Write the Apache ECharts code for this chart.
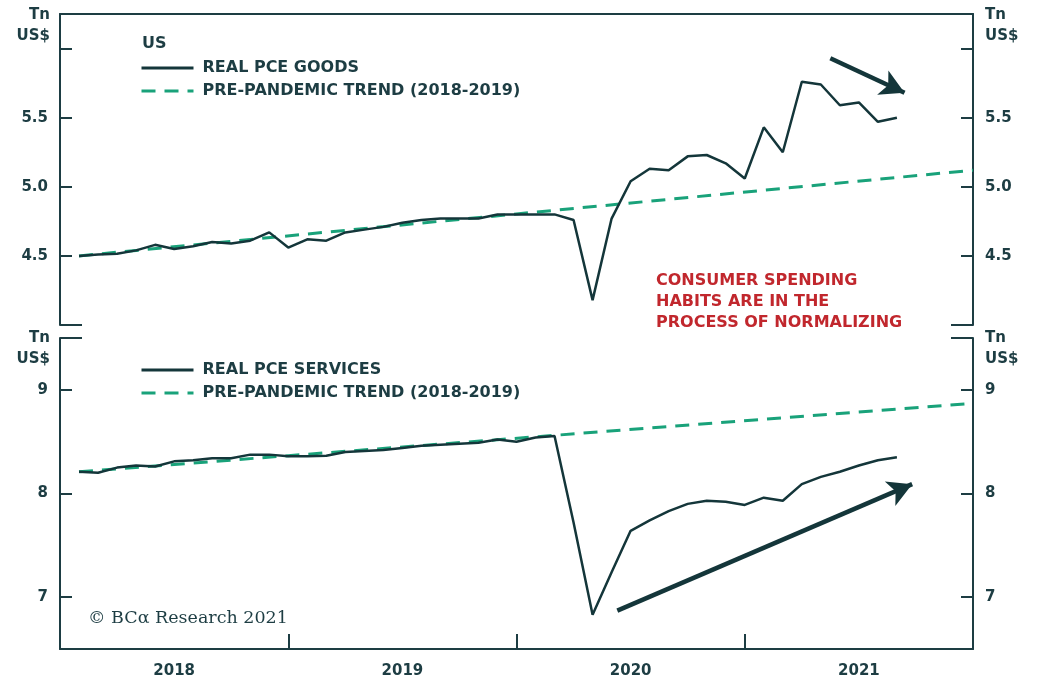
<!DOCTYPE html>
<html>
<head>
<meta charset="utf-8">
<script src="https://cdn.jsdelivr.net/npm/echarts@6/dist/echarts.min.js"></script>
<style>html,body{margin:0;padding:0;background:#fff;}#c{width:1037px;height:683px;}</style>
</head>
<body>
<div id="c"></div>
<script>
// ---- data (monthly, Jan 2018 = month 1) ----
var months = [1,2,3,4,5,6,7,8,9,10,11,12,13,14,15,16,17,18,19,20,21,22,23,24,25,26,27,28,29,30,31,32,33,34,35,36,37,38,39,40,41,42,43,44];
var goods = [4.50,4.51,4.515,4.54,4.58,4.55,4.57,4.60,4.59,4.61,4.67,4.56,4.62,4.61,4.67,4.69,4.71,4.74,4.76,4.77,4.77,4.77,4.80,4.80,4.80,4.80,4.76,4.18,4.77,5.04,5.13,5.12,5.22,5.23,5.17,5.06,5.43,5.25,5.76,5.74,5.59,5.61,5.47,5.50];
var services = [8.21,8.20,8.25,8.27,8.26,8.31,8.32,8.34,8.34,8.375,8.375,8.36,8.36,8.365,8.40,8.41,8.42,8.44,8.46,8.47,8.48,8.49,8.52,8.50,8.54,8.555,7.72,6.83,7.24,7.64,7.74,7.83,7.90,7.93,7.92,7.89,7.96,7.93,8.09,8.16,8.21,8.27,8.32,8.35];
var trendMonths = [1,48];
var goodsTrend = [4.50,5.12];
var servicesTrend = [8.21,8.87];
var yearLabels = ['2018','2019','2020','2021'];
var yearLabelPos = [6,18,30,42];
var yearTicks = [12,24,36];
var goodsTicks = [4.5,5.0,5.5,6.0];
var goodsLabels = [4.5,5.0,5.5];
var servicesTicks = [7,8,9];
var goodsArrow = [[40.5,5.93],[44.4,5.68]];
var servicesArrow = [[29.3,6.87],[44.8,8.09]];
var names = {goods:'REAL PCE GOODS', services:'REAL PCE SERVICES', trend:'PRE-PANDEMIC TREND (2018-2019)'};

// ---- styling / layout ----
var AX = '#1d3d43', LINE = '#14363a', GREEN = '#19a27a', RED = '#c1272d';
var FONT = 'DejaVu Sans';
var L = 60, R = 64;
var G0 = {top:14, height:311}, G1 = {top:338, height:311};

function pairs(xs, ys){ return xs.map(function(x,i){ return [x, ys[i]]; }); }

var chart = echarts.init(document.getElementById('c'), null, {renderer:'canvas'});

function yAx(grid, pos, min, max, ticks, labels, fmt){
  return {
    type:'value', gridIndex:grid, position:pos, min:min, max:max,
    axisLine:{show:true, onZero:false, lineStyle:{color:AX, width:2}},
    axisTick:{show:true, inside:true, length:12, customValues:ticks, lineStyle:{color:AX, width:2}},
    axisLabel:{show:true, customValues:labels, formatter:fmt, margin:12, color:AX, fontFamily:FONT, fontWeight:'bold', fontSize:15},
    splitLine:{show:false}
  };
}

function legendCfg(top, data){
  return {orient:'vertical', left:135, top:top, itemWidth:52, itemHeight:14, itemGap:7, selectedMode:false,
    data:data, itemStyle:{opacity:0}, lineStyle:{width:3},
    textStyle:{color:AX, fontFamily:FONT, fontWeight:'bold', fontSize:16, padding:[0,0,0,4]}};
}

var option = {
  animation:false,
  backgroundColor:'#fff',
  grid:[
    {left:L, right:R, top:G0.top, height:G0.height},
    {left:L, right:R, top:G1.top, height:G1.height}
  ],
  xAxis:[
    {type:'value', gridIndex:0, position:'top', min:0, max:48,
     axisLine:{show:true, onZero:false, lineStyle:{color:AX, width:2}},
     axisTick:{show:false}, axisLabel:{show:false}, splitLine:{show:false}},
    {type:'value', gridIndex:1, position:'bottom', min:0, max:48,
     axisLine:{show:true, onZero:false, lineStyle:{color:AX, width:2}},
     axisTick:{show:true, inside:true, length:15, customValues:yearTicks, lineStyle:{color:AX, width:2}},
     axisLabel:{show:true, customValues:yearLabelPos, margin:15,
       formatter:function(v){ var i = yearLabelPos.indexOf(v); return i>=0 ? yearLabels[i] : ''; },
       color:AX, fontFamily:FONT, fontWeight:'bold', fontSize:15},
     splitLine:{show:false}}
  ],
  yAxis:[
    yAx(0,'left',4,6.25,goodsTicks,goodsLabels,function(v){return v.toFixed(1);}),
    yAx(0,'right',4,6.25,goodsTicks,goodsLabels,function(v){return v.toFixed(1);}),
    yAx(1,'left',6.5,9.5,servicesTicks,servicesTicks,function(v){return String(v);}),
    yAx(1,'right',6.5,9.5,servicesTicks,servicesTicks,function(v){return String(v);})
  ],
  legend:[
    legendCfg(55, [names.goods, names.trend]),
    legendCfg(357, [names.services, names.trend])
  ],
  series:[
    {name:names.goods, type:'line', xAxisIndex:0, yAxisIndex:0, data:pairs(months, goods),
     symbol:'none', lineStyle:{color:LINE, width:2.5}, itemStyle:{color:LINE}, z:3,
     markLine:{silent:true, symbol:['none','arrow'], symbolSize:[20,24], label:{show:false},
       lineStyle:{color:LINE, width:4.5, type:'solid'},
       data:[[{coord:goodsArrow[0]},{coord:goodsArrow[1]}]]}},
    {name:names.trend, type:'line', xAxisIndex:0, yAxisIndex:0, data:pairs(trendMonths, goodsTrend),
     symbol:'none', lineStyle:{color:GREEN, width:3, type:[14,9]}, itemStyle:{color:GREEN}, z:2},
    {name:names.services, type:'line', xAxisIndex:1, yAxisIndex:2, data:pairs(months, services),
     symbol:'none', lineStyle:{color:LINE, width:2.5}, itemStyle:{color:LINE}, z:3,
     markLine:{silent:true, symbol:['none','arrow'], symbolSize:[20,24], label:{show:false},
       lineStyle:{color:LINE, width:4.5, type:'solid'},
       data:[[{coord:servicesArrow[0]},{coord:servicesArrow[1]}]]}},
    {name:names.trend, type:'line', xAxisIndex:1, yAxisIndex:2, data:pairs(trendMonths, servicesTrend),
     symbol:'none', lineStyle:{color:GREEN, width:3, type:[14,9]}, itemStyle:{color:GREEN}, z:2}
  ],
  graphic:[
    {type:'line', shape:{x1:L, y1:G0.top+G0.height, x2:L+22, y2:G0.top+G0.height}, style:{stroke:AX, lineWidth:2}},
    {type:'line', shape:{x1:1037-R-22, y1:G0.top+G0.height, x2:1037-R, y2:G0.top+G0.height}, style:{stroke:AX, lineWidth:2}},
    {type:'line', shape:{x1:L, y1:G1.top, x2:L+22, y2:G1.top}, style:{stroke:AX, lineWidth:2}},
    {type:'line', shape:{x1:1037-R-22, y1:G1.top, x2:1037-R, y2:G1.top}, style:{stroke:AX, lineWidth:2}},
    {type:'text', x:50, y:5, style:{text:'Tn\nUS$', align:'right', lineHeight:21, fill:AX, font:'bold 15px "DejaVu Sans"'}},
    {type:'text', x:985, y:5, style:{text:'Tn\nUS$', align:'left', lineHeight:21, fill:AX, font:'bold 15px "DejaVu Sans"'}},
    {type:'text', x:50, y:328, style:{text:'Tn\nUS$', align:'right', lineHeight:21, fill:AX, font:'bold 15px "DejaVu Sans"'}},
    {type:'text', x:985, y:328, style:{text:'Tn\nUS$', align:'left', lineHeight:21, fill:AX, font:'bold 15px "DejaVu Sans"'}},
    {type:'text', x:142, y:36, style:{text:'US', fill:AX, font:'bold 16px "DejaVu Sans"'}},
    {type:'text', x:656, y:270, style:{text:'CONSUMER SPENDING\nHABITS ARE IN THE\nPROCESS OF NORMALIZING', lineHeight:21, fill:RED, font:'bold 16px "DejaVu Sans"'}},
    {type:'text', x:88, y:618, style:{text:'\u00a9 BC\u03b1 Research 2021', verticalAlign:'middle', fill:AX, font:'17.5px "DejaVu Serif"'}}
  ]
};
chart.setOption(option);
</script>
</body>
</html>
